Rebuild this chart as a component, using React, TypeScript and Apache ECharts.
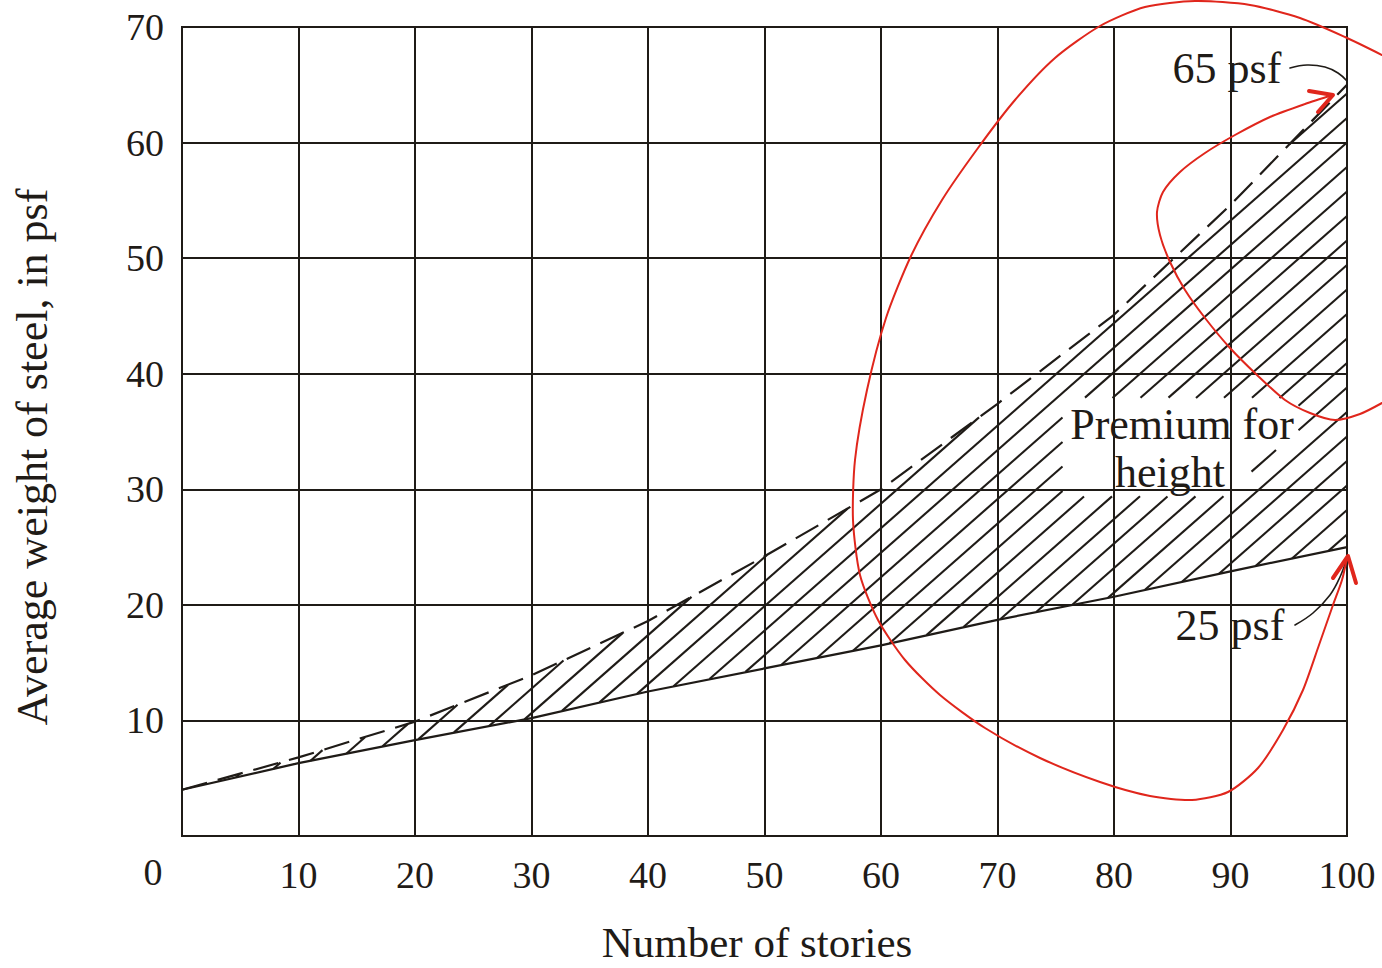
import React, { useEffect, useRef } from 'react';
import * as echarts from 'echarts';

// ---- data ----
const stories = [0, 10, 20, 30, 40, 50, 60, 70, 80, 90, 100];
const basePsf = [4, 6.3, 8.3, 10.2, 12.5, 14.5, 16.5, 18.7, 20.7, 22.9, 25];
const topPsf = [4, 6.8, 9.9, 13.9, 18.6, 24.2, 30.0, 37.4, 45.1, 54.6, 65];
const xTickLabels = ['', '10', '20', '30', '40', '50', '60', '70', '80', '90', '100'];
const yTickLabels = ['', '10', '20', '30', '40', '50', '60', '70'];
const originLabel = '0';
const xTitle = 'Number of stories';
const yTitle = 'Average weight of steel, in psf';
const topLabel = '65 psf';
const baseLabel = '25 psf';
const areaLabel = ['Premium for', 'height'];

// ---- styling / layout constants ----
const INK = '#1f1b17';
const RED = '#e0261c';
const FONT = "'Liberation Serif', 'Times New Roman', serif";
const HATCH_SLOPE = 0.88; // pixel dy/dx
const HATCH_GAP = 24.5; // vertical pixel gap
const HATCH_ANCHOR = [100, 60];
// regions (in data units) kept free of hatching behind the label
const clearBoxes = [
  [75.6, 37.9, 95.8, 33.4],
  [75.6, 33.4, 91.8, 29.4],
];

const loopBig = [[1382,55],[1345,37],[1300,18],[1250,5],[1195,1],[1145,7],[1100,26],[1055,58],[1015,100],[978,148],[942,200],[911,256],[886,318],[867,390],[855,460],[853,520],[860,575],[878,620],[905,660],[940,695],[985,728],[1040,758],[1100,782],[1150,796],[1192,800],[1228,792],[1258,768],[1283,730],[1303,690],[1319,645],[1333,605],[1342,580],[1347,558]];
const loopSmall = [[1382,403],[1360,414],[1335,420],[1310,413],[1285,400],[1257,375],[1230,348],[1205,318],[1185,290],[1170,262],[1160,235],[1157,212],[1163,192],[1180,172],[1205,153],[1235,135],[1270,117],[1305,104],[1333,95]];
const head25 = [[1333,578],[1348,556],[1356,583]];
const head65 = [[1309,91],[1333,95],[1318,112]];
const lead65 = [[1290,68],[1307,65],[1325,67],[1338,73],[1347,81]];
const lead25 = [[1295,625],[1313,613],[1330,595],[1340,577],[1347,558]];

function interp(pts: number[][], x: number): number {
  if (x <= pts[0][0]) return pts[0][1];
  for (let i = 1; i < pts.length; i++) {
    if (x <= pts[i][0]) {
      const a = pts[i - 1], b = pts[i];
      const t = (x - a[0]) / (b[0] - a[0]);
      return a[1] + t * (b[1] - a[1]);
    }
  }
  return pts[pts.length - 1][1];
}

function renderHatch(params: any, api: any) {
  const lower = stories.map((s, i) => api.coord([s, basePsf[i]]));
  const upper = stories.map((s, i) => api.coord([s, topPsf[i]]));
  const boxes = clearBoxes.map((b) => {
    const p1 = api.coord([b[0], b[1]]);
    const p2 = api.coord([b[2], b[3]]);
    return [Math.min(p1[0], p2[0]), Math.min(p1[1], p2[1]), Math.max(p1[0], p2[0]), Math.max(p1[1], p2[1])];
  });
  const x0 = lower[0][0];
  const x1 = lower[lower.length - 1][0];
  const k = HATCH_SLOPE;
  let cMin = Infinity, cMax = -Infinity;
  for (let x = x0; x <= x1; x += 1) {
    cMin = Math.min(cMin, interp(upper, x) + k * x);
    cMax = Math.max(cMax, interp(lower, x) + k * x);
  }
  const anchor = api.coord(HATCH_ANCHOR);
  const cAnchor = anchor[1] + k * anchor[0];
  const nStart = Math.ceil((cMin - cAnchor) / HATCH_GAP);
  const children: any[] = [];
  const step = 0.5;
  const push = (s: number[], e: number[]) => {
    if (e[0] - s[0] > 1.5) {
      children.push({ type: 'line', shape: { x1: s[0], y1: s[1], x2: e[0], y2: e[1] }, style: { stroke: INK, lineWidth: 2.1 } });
    }
  };
  for (let n = nStart; cAnchor + n * HATCH_GAP <= cMax; n++) {
    const c = cAnchor + n * HATCH_GAP;
    let start: number[] | null = null;
    let last: number[] | null = null;
    for (let x = x0; x <= x1 + 0.001; x += step) {
      const y = c - k * x;
      let inside = y <= interp(lower, x) && y >= interp(upper, x);
      if (inside) {
        for (const b of boxes) {
          if (x >= b[0] && x <= b[2] && y >= b[1] && y <= b[3]) { inside = false; break; }
        }
      }
      if (inside) {
        if (!start) start = [x, y];
        last = [x, y];
      } else if (start && last) {
        push(start, last);
        start = null; last = null;
      }
    }
    if (start && last) push(start, last);
  }
  return { type: 'group', children };
}

function poly(points: number[][], color: string, width: number, smooth: number) {
  return {
    type: 'polyline',
    z: 100,
    shape: { points, smooth },
    style: { stroke: color, lineWidth: width, fill: null, lineCap: 'round', lineJoin: 'round' },
  };
}

function txt(text: string, x: number, y: number, size: number, rotation = 0) {
  return {
    type: 'text',
    z: 100,
    x,
    y,
    rotation,
    style: { text, fontSize: size, fontFamily: FONT, fill: INK, align: 'center', verticalAlign: 'middle' },
  };
}

export default function App() {
  const ref = useRef<HTMLDivElement>(null);
  useEffect(() => {
    if (!ref.current) return;
    const chart = echarts.init(ref.current, null, { renderer: 'svg' });
    const axisLine = { show: true, lineStyle: { color: INK, width: 2 } };
    const option: any = {
      animation: false,
      backgroundColor: '#ffffff',
      grid: { left: 182, top: 27, right: 35, bottom: 132, show: true, borderColor: INK, borderWidth: 2 },
      xAxis: {
        type: 'value',
        min: 0,
        max: 100,
        interval: 10,
        axisLine,
        axisTick: { show: false },
        splitLine: { show: true, lineStyle: { color: INK, width: 2 } },
        axisLabel: {
          formatter: (v: number) => xTickLabels[Math.round(v / 10)] ?? '',
          fontFamily: FONT,
          fontSize: 38,
          color: INK,
          margin: 20,
        },
      },
      yAxis: {
        type: 'value',
        min: 0,
        max: 70,
        interval: 10,
        axisLine,
        axisTick: { show: false },
        splitLine: { show: true, lineStyle: { color: INK, width: 2 } },
        axisLabel: {
          formatter: (v: number) => yTickLabels[Math.round(v / 10)] ?? '',
          fontFamily: FONT,
          fontSize: 38,
          color: INK,
          margin: 18,
        },
      },
      series: [
        {
          type: 'custom',
          name: 'Premium for height',
          renderItem: renderHatch,
          data: [[0, 0]],
          encode: { x: 0, y: 1 },
          silent: true,
          z: 3,
        },
        {
          type: 'line',
          name: 'Base',
          data: stories.map((s, i) => [s, basePsf[i]]),
          symbol: 'none',
          lineStyle: { color: INK, width: 2.2 },
          z: 4,
        },
        {
          type: 'line',
          name: 'Top',
          data: stories.map((s, i) => [s, topPsf[i]]),
          symbol: 'none',
          lineStyle: { color: INK, width: 2.2, type: [26, 11] },
          z: 4,
        },
      ],
      graphic: [
        txt(originLabel, 153, 872, 38),
        txt(xTitle, 757, 942, 43),
        txt(yTitle, 32, 457, 44, Math.PI / 2),
        txt(topLabel, 1227, 68, 44),
        txt(baseLabel, 1230, 625, 44),
        txt(areaLabel[0], 1182, 424, 44),
        txt(areaLabel[1], 1170, 472, 44),
        poly(lead65, INK, 1.6, 0.4),
        poly(lead25, INK, 1.6, 0.4),
        poly(loopBig, RED, 2, 0.25),
        poly(loopSmall, RED, 2, 0.25),
        poly(head25, RED, 4, 0),
        poly(head65, RED, 4, 0),
      ],
    };
    chart.setOption(option);
    return () => chart.dispose();
  }, []);
  return (
    <div
      ref={ref}
      style={{ position: 'absolute', left: 0, top: 0, width: 1382, height: 968, background: '#fff' }}
    />
  );
}
